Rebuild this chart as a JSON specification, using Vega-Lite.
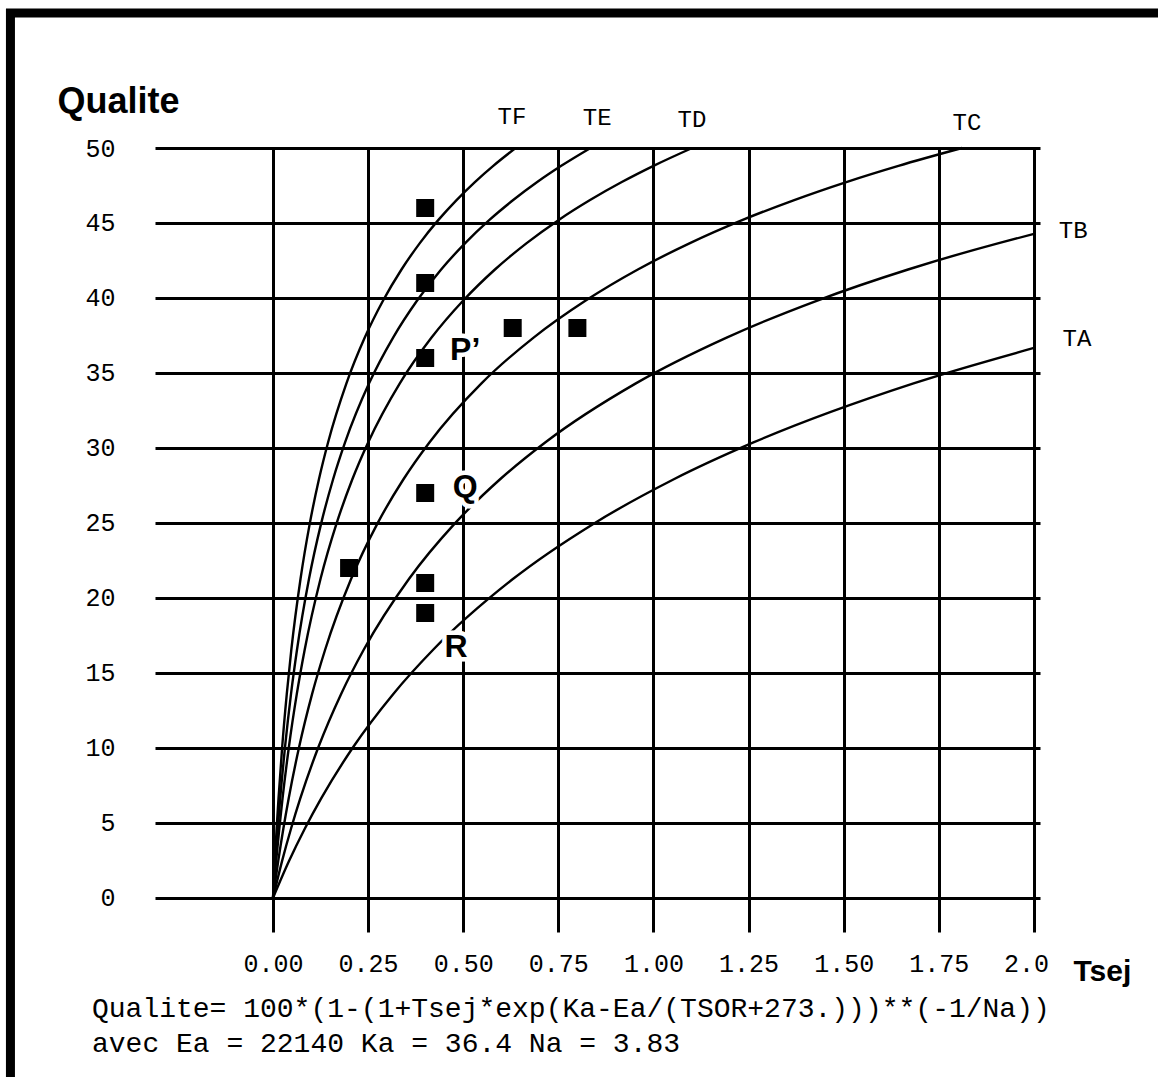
{
  "$schema": "https://vega.github.io/schema/vega-lite/v6.json",
  "width": 885,
  "height": 784,
  "autosize": {"type": "none"},
  "padding": {"left": 155, "top": 148, "right": 118, "bottom": 145},
  "background": "white",
  "config": {
    "view": {"stroke": null},
    "axis": {
      "grid": true, "gridColor": "black", "gridWidth": 3, "gridOpacity": 1,
      "domain": false, "ticks": false,
      "labelFont": "Liberation Mono", "labelFontSize": 25, "labelColor": "black",
      "labelOverlap": false, "labelFlush": false, "labelBound": false,
      "titleColor": "black"
    }
  },
  "layer": [
    {
      "encoding": {
        "x": {"field": "t", "type": "quantitative", "scale": {"domain": [-0.3101, 2.0158], "nice": false, "zero": false},
          "axis": {"values": [0,0.25,0.5,0.75,1,1.25,1.5,1.75,2],
            "labelExpr": "datum.value == 2 ? '2.0' : format(datum.value, '.2f')",
            "labelOffset": {"condition": {"test": "datum.value == 2", "value": -8}, "value": 0},
            "labelPadding": 31, "labelBaseline": "middle",
            "title": "Tsej", "titleFont": "Liberation Sans", "titleFontWeight": "bold", "titleFontSize": 30,
            "titleX": 918, "titleY": 48, "titleAlign": "left", "titleBaseline": "alphabetic", "titleAngle": 0}},
        "y": {"field": "q", "type": "quantitative", "scale": {"domain": [-2.267, 50], "nice": false, "zero": false},
          "axis": {"values": [0,5,10,15,20,25,30,35,40,45,50], "labelPadding": 40,
            "title": "Qualite", "titleFont": "Liberation Sans", "titleFontWeight": "bold", "titleFontSize": 36,
            "titleAngle": 0, "titleAlign": "left", "titleBaseline": "alphabetic", "titleX": -98, "titleY": -36}}
      },
      "layer": [
        {
          "data": {"values": [
            {"curve":"TA","t":0,"q":0},{"curve":"TA","t":0.0421,"q":2.46},{"curve":"TA","t":0.0842,"q":4.65},{"curve":"TA","t":0.1263,"q":6.62},{"curve":"TA","t":0.2104,"q":10.05},{"curve":"TA","t":0.3157,"q":13.59},{"curve":"TA","t":0.4209,"q":16.55},{"curve":"TA","t":0.6313,"q":21.28},{"curve":"TA","t":0.8418,"q":24.94},{"curve":"TA","t":1.0522,"q":27.9},{"curve":"TA","t":1.2626,"q":30.37},{"curve":"TA","t":1.6835,"q":34.31},{"curve":"TA","t":2.0,"q":36.67},
            {"curve":"TB","t":0,"q":0},{"curve":"TB","t":0.0238,"q":2.46},{"curve":"TB","t":0.0477,"q":4.65},{"curve":"TB","t":0.0715,"q":6.62},{"curve":"TB","t":0.1192,"q":10.05},{"curve":"TB","t":0.1788,"q":13.59},{"curve":"TB","t":0.2384,"q":16.55},{"curve":"TB","t":0.3577,"q":21.28},{"curve":"TB","t":0.4769,"q":24.94},{"curve":"TB","t":0.5961,"q":27.9},{"curve":"TB","t":0.7153,"q":30.37},{"curve":"TB","t":0.9537,"q":34.31},{"curve":"TB","t":1.1922,"q":37.36},{"curve":"TB","t":1.4306,"q":39.83},{"curve":"TB","t":1.6691,"q":41.9},{"curve":"TB","t":1.9075,"q":43.66},{"curve":"TB","t":2.0,"q":44.27},
            {"curve":"TC","t":0,"q":0},{"curve":"TC","t":0.0137,"q":2.46},{"curve":"TC","t":0.0274,"q":4.65},{"curve":"TC","t":0.0411,"q":6.62},{"curve":"TC","t":0.0685,"q":10.05},{"curve":"TC","t":0.1027,"q":13.59},{"curve":"TC","t":0.137,"q":16.55},{"curve":"TC","t":0.2055,"q":21.28},{"curve":"TC","t":0.274,"q":24.94},{"curve":"TC","t":0.3425,"q":27.9},{"curve":"TC","t":0.411,"q":30.37},{"curve":"TC","t":0.5479,"q":34.31},{"curve":"TC","t":0.6849,"q":37.36},{"curve":"TC","t":0.8219,"q":39.83},{"curve":"TC","t":0.9589,"q":41.9},{"curve":"TC","t":1.0959,"q":43.66},{"curve":"TC","t":1.2329,"q":45.19},{"curve":"TC","t":1.3699,"q":46.53},{"curve":"TC","t":1.5068,"q":47.73},{"curve":"TC","t":1.6438,"q":48.81},{"curve":"TC","t":1.811,"q":50},
            {"curve":"TD","t":0,"q":0},{"curve":"TD","t":0.0083,"q":2.46},{"curve":"TD","t":0.0167,"q":4.65},{"curve":"TD","t":0.025,"q":6.62},{"curve":"TD","t":0.0417,"q":10.05},{"curve":"TD","t":0.0625,"q":13.59},{"curve":"TD","t":0.0833,"q":16.55},{"curve":"TD","t":0.125,"q":21.28},{"curve":"TD","t":0.1667,"q":24.94},{"curve":"TD","t":0.2083,"q":27.9},{"curve":"TD","t":0.25,"q":30.37},{"curve":"TD","t":0.3333,"q":34.31},{"curve":"TD","t":0.4167,"q":37.36},{"curve":"TD","t":0.5,"q":39.83},{"curve":"TD","t":0.5833,"q":41.9},{"curve":"TD","t":0.6667,"q":43.66},{"curve":"TD","t":0.75,"q":45.19},{"curve":"TD","t":0.8333,"q":46.53},{"curve":"TD","t":0.9167,"q":47.73},{"curve":"TD","t":1.0,"q":48.81},{"curve":"TD","t":1.1017,"q":50},
            {"curve":"TE","t":0,"q":0},{"curve":"TE","t":0.0063,"q":2.46},{"curve":"TE","t":0.0126,"q":4.65},{"curve":"TE","t":0.0189,"q":6.62},{"curve":"TE","t":0.0316,"q":10.05},{"curve":"TE","t":0.0473,"q":13.59},{"curve":"TE","t":0.0631,"q":16.55},{"curve":"TE","t":0.0947,"q":21.28},{"curve":"TE","t":0.1263,"q":24.94},{"curve":"TE","t":0.1578,"q":27.9},{"curve":"TE","t":0.1894,"q":30.37},{"curve":"TE","t":0.2525,"q":34.31},{"curve":"TE","t":0.3157,"q":37.36},{"curve":"TE","t":0.3788,"q":39.83},{"curve":"TE","t":0.4419,"q":41.9},{"curve":"TE","t":0.5051,"q":43.66},{"curve":"TE","t":0.5682,"q":45.19},{"curve":"TE","t":0.6313,"q":46.53},{"curve":"TE","t":0.6944,"q":47.73},{"curve":"TE","t":0.7576,"q":48.81},{"curve":"TE","t":0.8346,"q":50},
            {"curve":"TF","t":0,"q":0},{"curve":"TF","t":0.0048,"q":2.46},{"curve":"TF","t":0.0096,"q":4.65},{"curve":"TF","t":0.0145,"q":6.62},{"curve":"TF","t":0.0241,"q":10.05},{"curve":"TF","t":0.0362,"q":13.59},{"curve":"TF","t":0.0482,"q":16.55},{"curve":"TF","t":0.0724,"q":21.28},{"curve":"TF","t":0.0965,"q":24.94},{"curve":"TF","t":0.1206,"q":27.9},{"curve":"TF","t":0.1447,"q":30.37},{"curve":"TF","t":0.193,"q":34.31},{"curve":"TF","t":0.2412,"q":37.36},{"curve":"TF","t":0.2894,"q":39.83},{"curve":"TF","t":0.3377,"q":41.9},{"curve":"TF","t":0.3859,"q":43.66},{"curve":"TF","t":0.4342,"q":45.19},{"curve":"TF","t":0.4824,"q":46.53},{"curve":"TF","t":0.5306,"q":47.73},{"curve":"TF","t":0.5789,"q":48.81},{"curve":"TF","t":0.6377,"q":50}
          ]},
          "mark": {"type": "line", "color": "black", "strokeWidth": 2.4, "interpolate": "monotone"},
          "encoding": {"detail": {"field": "curve", "type": "nominal"}}
        },
        {
          "data": {"values": [
            {"t":0.4,"q":46},{"t":0.4,"q":41},{"t":0.4,"q":36},{"t":0.63,"q":38},{"t":0.8,"q":38},
            {"t":0.4,"q":27},{"t":0.2,"q":22},{"t":0.4,"q":21},{"t":0.4,"q":19}
          ]},
          "mark": {"type": "point", "shape": "square", "filled": true, "color": "black", "size": 324, "opacity": 1}
        },
        {
          "data": {"values": [
            {"label":"TF","t":0.628,"q":52.07},{"label":"TE","t":0.852,"q":52.0},{"label":"TD","t":1.101,"q":51.9},
            {"label":"TC","t":1.824,"q":51.67},{"label":"TB","t":2.103,"q":44.47},{"label":"TA","t":2.113,"q":37.27}
          ]},
          "mark": {"type": "text", "font": "Liberation Mono", "fontSize": 24, "color": "black", "align": "center", "baseline": "middle"},
          "encoding": {"text": {"field": "label", "type": "nominal"}}
        },
        {
          "data": {"values": [
            {"label":"P’","t":0.505,"q":36.5},{"label":"Q","t":0.505,"q":27.4},{"label":"R","t":0.481,"q":16.73}
          ]},
          "layer": [
            {"mark": {"type": "text", "font": "Liberation Sans", "fontWeight": "bold", "fontSize": 32, "color": "white", "stroke": "white", "strokeWidth": 9, "align": "center", "baseline": "middle"}},
            {"mark": {"type": "text", "font": "Liberation Sans", "fontWeight": "bold", "fontSize": 32, "color": "black", "align": "center", "baseline": "middle"}}
          ],
          "encoding": {"text": {"field": "label", "type": "nominal"}}
        }
      ]
    },
    {
      "data": {"values": [{"note": "formula"}]},
      "mark": {"type": "text", "font": "Liberation Mono", "fontSize": 28, "color": "black", "align": "left", "baseline": "alphabetic", "lineHeight": 35},
      "encoding": {
        "x": {"datum": -0.4757, "type": "quantitative", "scale": {"domain": [-0.3101, 2.0158], "nice": false, "zero": false}},
        "y": {"datum": -7.93, "type": "quantitative", "scale": {"domain": [-2.267, 50], "nice": false, "zero": false}},
        "text": {"value": ["Qualite= 100*(1-(1+Tsej*exp(Ka-Ea/(TSOR+273.)))**(-1/Na))", "avec Ea = 22140 Ka = 36.4 Na = 3.83"]}
      }
    },
    {
      "data": {"values": [{"frame": "border"}]},
      "mark": {"type": "rect", "filled": false, "stroke": "black", "strokeWidth": 9, "fill": null},
      "encoding": {
        "x": {"datum": -0.69, "type": "quantitative", "scale": {"domain": [-0.3101, 2.0158], "nice": false, "zero": false}},
        "x2": {"datum": 2.6},
        "y": {"datum": 59.0, "type": "quantitative", "scale": {"domain": [-2.267, 50], "nice": false, "zero": false}},
        "y2": {"datum": -15}
      }
    }
  ]
}
